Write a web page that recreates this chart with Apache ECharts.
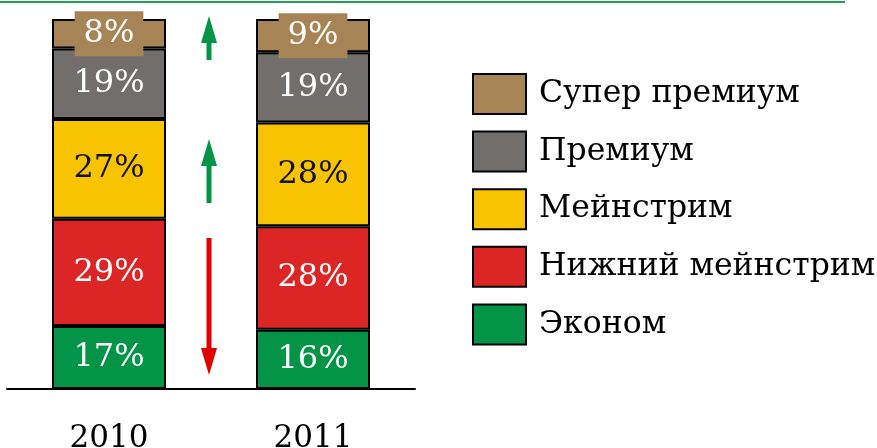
<!DOCTYPE html>
<html>
<head>
<meta charset="utf-8">
<script src="https://cdn.jsdelivr.net/npm/echarts@6/dist/echarts.min.js"></script>
<style>
  html, body { margin: 0; padding: 0; background: #fff; }
  #chart { width: 877px; height: 448px; }
</style>
</head>
<body>
<div id="chart"></div>
<script>
// Market structure by price segment, shares in percent
const years = ['2010', '2011'];
const segmentNames = ['Эконом', 'Нижний мейнстрим', 'Мейнстрим', 'Премиум', 'Супер премиум'];
const economy = [17, 16];
const lowerMainstream = [29, 28];
const mainstream = [27, 28];
const premium = [19, 19];
const superPremium = [8, 9];

const segmentValues = [economy, lowerMainstream, mainstream, premium, superPremium];
const segmentColors = ['#039447', '#dc2626', '#f8c300', '#716e6b', '#a68455'];
const labelColors = ['#fff', '#fff', '#111', '#fff', '#fff'];

const FONT = 'DejaVu Serif';

const chart = echarts.init(document.getElementById('chart'));

const series = segmentNames.map((name, i) => ({
  name,
  type: 'bar',
  stack: 'total',
  barWidth: 114,
  data: segmentValues[i],
  itemStyle: { color: segmentColors[i], borderColor: '#000', borderWidth: 2 },
  label: {
    show: true,
    position: 'inside',
    formatter: '{c}%',
    fontFamily: FONT,
    fontSize: 32,
    color: labelColors[i],
    backgroundColor: i === 4 ? segmentColors[i] : 'transparent',
    padding: i === 4 ? [8, 9, 5, 9] : 0
  },
  emphasis: { disabled: true }
}));

// up / down trend arrows between the bars
function arrow(x, yTail, yHead, color) {
  const up = yHead < yTail;
  const headLen = 27, headHalf = 8, shaft = 2.5;
  const yBase = up ? yHead + headLen : yHead - headLen;
  return {
    type: 'polygon',
    silent: true,
    shape: {
      points: [
        [x - shaft, yTail], [x + shaft, yTail],
        [x + shaft, yBase], [x + headHalf, yBase],
        [x, yHead],
        [x - headHalf, yBase], [x - shaft, yBase]
      ]
    },
    style: { fill: color }
  };
}

chart.setOption({
  animation: false,
  grid: { left: 7, right: 462, top: 19, bottom: 59, outerBoundsMode: 'none', containLabel: false },
  xAxis: {
    type: 'category',
    data: years,
    axisLine: { lineStyle: { color: '#000', width: 2 } },
    axisTick: { show: false },
    axisLabel: { fontFamily: FONT, fontSize: 31, color: '#000', margin: 34 }
  },
  yAxis: {
    type: 'value',
    min: 0,
    max: 100,
    show: false,
    splitLine: { show: false }
  },
  legend: {
    orient: 'vertical',
    left: 472,
    top: 73,
    padding: 0,
    itemWidth: 53,
    itemHeight: 40,
    itemGap: 15.6,
    icon: 'rect',
    selectedMode: false,
    data: segmentNames.slice().reverse(),
    textStyle: { fontFamily: FONT, fontSize: 31.5, color: '#000', padding: [7, 0, 0, 8] }
  },
  series,
  graphic: [
    {
      type: 'line',
      silent: true,
      shape: { x1: 0, y1: 2, x2: 845, y2: 2 },
      style: { stroke: '#22a055', lineWidth: 2 }
    },
    arrow(209, 60, 16, '#039447'),
    arrow(209, 203, 139, '#039447'),
    arrow(209, 238, 375, '#e00000')
  ]
});
</script>
</body>
</html>
